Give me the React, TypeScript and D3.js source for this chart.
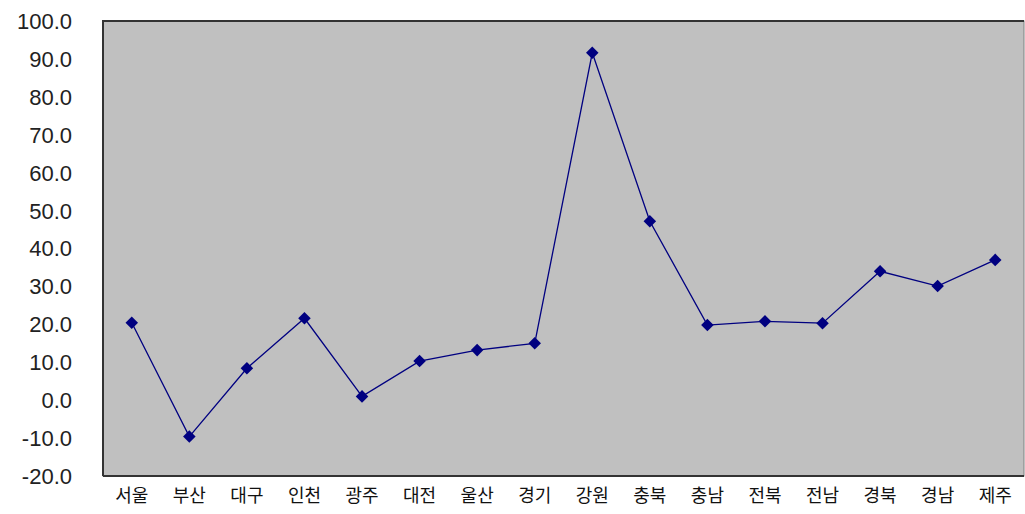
import * as d3 from "d3";
import { useRef, useEffect } from "react";

const regions = ["서울", "부산", "대구", "인천", "광주", "대전", "울산", "경기", "강원", "충북", "충남", "전북", "전남", "경북", "경남", "제주"];
const values = [20.4, -9.6, 8.4, 21.6, 1.0, 10.3, 13.2, 15.0, 91.6, 47.2, 19.8, 20.8, 20.3, 34.0, 30.1, 37.0];
const yTicks = [-20, -10, 0, 10, 20, 30, 40, 50, 60, 70, 80, 90, 100];

export default function App() {
  const svgRef = useRef<SVGSVGElement>(null);
  const width = 1025;
  const height = 514;
  const left = 103;
  const right = 1024;
  const top = 21;
  const bottom = 476;

  useEffect(() => {
    const svg = d3.select(svgRef.current);
    svg.selectAll("*").remove();

    const x = d3.scalePoint<string>().domain(regions).range([left, right]).padding(0.5);
    const y = d3.scaleLinear().domain([-20, 100]).range([bottom, top]);

    // plot area
    svg.append("rect")
      .attr("x", left).attr("y", top)
      .attr("width", right - left).attr("height", bottom - top)
      .attr("fill", "#c0c0c0")
      .attr("stroke", "#808080");
    svg.append("path")
      .attr("d", `M${left},${bottom}V${top}H${right}M${left},${bottom}H${right}`)
      .attr("fill", "none")
      .attr("stroke", "#333")
      .attr("stroke-width", 2);

    // y labels
    svg.append("g")
      .selectAll("text")
      .data(yTicks)
      .join("text")
      .attr("x", 72)
      .attr("y", d => y(d))
      .attr("dy", "0.36em")
      .attr("text-anchor", "end")
      .attr("font-family", "Liberation Sans, Arial, sans-serif")
      .attr("font-size", 22)
      .attr("fill", "#222")
      .text(d => d.toFixed(1));

    // x labels
    svg.append("g")
      .selectAll("text")
      .data(regions)
      .join("text")
      .attr("x", d => x(d)!)
      .attr("y", 502)
      .attr("text-anchor", "middle")
      .attr("font-family", "Noto Sans CJK KR, sans-serif")
      .attr("font-size", 18)
      .attr("fill", "#111")
      .text(d => d);

    const line = d3.line<number>()
      .x((d, i) => x(regions[i])!)
      .y(d => y(d));

    svg.append("path")
      .attr("d", line(values))
      .attr("fill", "none")
      .attr("stroke", "#000080")
      .attr("stroke-width", 1.3);

    svg.append("g")
      .selectAll("path")
      .data(values)
      .join("path")
      .attr("transform", (d, i) => `translate(${x(regions[i])},${y(d)})`)
      .attr("d", d3.symbol(d3.symbolDiamond2, 100)())
      .attr("fill", "#000080");
  }, []);

  return (
    <svg
      ref={svgRef}
      width={width}
      height={height}
      style={{ position: "absolute", left: 0, top: 0, background: "#fff" }}
    />
  );
}
